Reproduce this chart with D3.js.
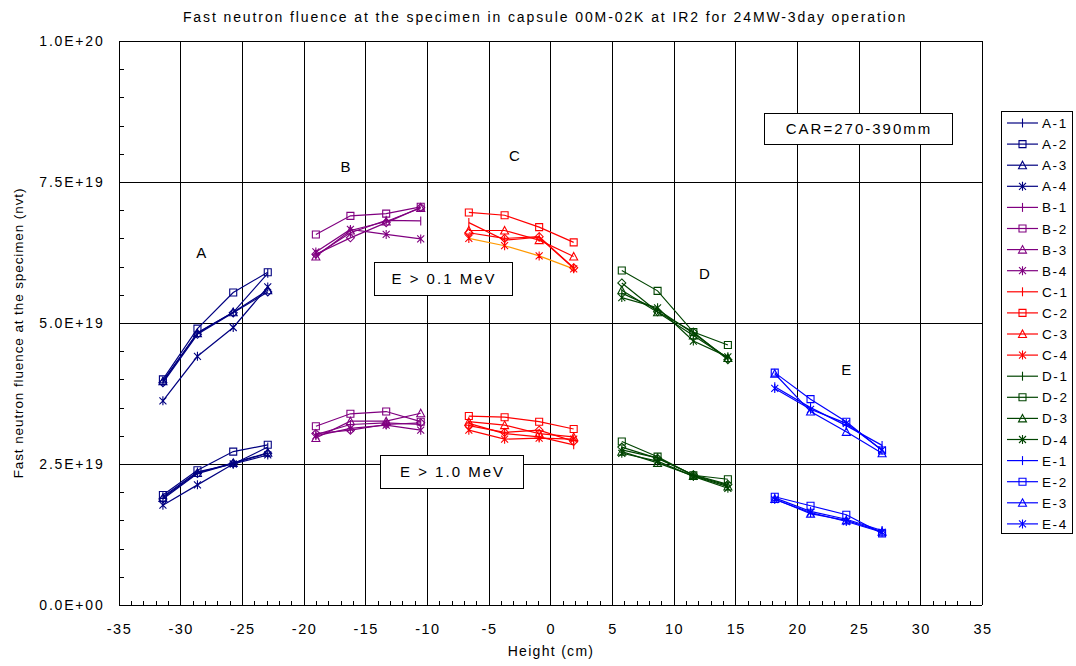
<!DOCTYPE html>
<html>
<head>
<meta charset="utf-8">
<script src="https://cdn.jsdelivr.net/npm/d3@7"></script>
<style>
  body { margin: 0; background: #fff; }
  text { font-family: "Liberation Sans", Arial, sans-serif; fill: #000; }
</style>
</head>
<body>
<div id="chart"></div>
<script>
// specimen heights (cm) for each capsule group
var heightsA = [-31.4, -28.6, -25.7, -22.9];
var heightsB = [-19.0, -16.2, -13.3, -10.5];
var heightsC = [-6.6, -3.7, -0.9, 1.9];
var heightsD = [5.8, 8.7, 11.6, 14.4];
var heightsE = [18.2, 21.1, 24.0, 26.9];

// fluence in 1E+19 nvt, E > 0.1 MeV ; rows = specimen 1..4, 5th row = unlabelled diamond series
var upperA = [[3.96, 4.83, 5.19, 5.88], [4.00, 4.90, 5.54, 5.90], [3.97, 4.82, 5.19, 5.58], [3.62, 4.41, 4.92, 5.64], [3.94, 4.80, 5.18, 5.55]];
var upperB = [[6.20, 6.60, 6.82, 6.81], [6.57, 6.90, 6.94, 7.06], [6.18, 6.64, 6.80, 7.04], [6.26, 6.66, 6.57, 6.49], [6.22, 6.51, 6.78, 7.05]];
var upperC = [[6.78, 6.47, 6.52, 5.97], [6.96, 6.91, 6.70, 6.43], [6.64, 6.64, 6.47, 6.18], [6.50, 6.37, 6.19, 5.96], [6.60, 6.50, 6.53, 5.98]];
var upperD = [[5.53, 5.24, 4.82, 4.37], [5.93, 5.57, 4.84, 4.61], [5.58, 5.19, 4.78, 4.38], [5.45, 5.27, 4.68, 4.40], [5.71, 5.20, 4.84, 4.35]];
var upperE = [[3.87, 3.50, 3.18, 2.83], [4.12, 3.65, 3.25, 2.74], [4.10, 3.43, 3.07, 2.69], [3.84, 3.47, 3.22, 2.75]];

// fluence in 1E+19 nvt, E > 1.0 MeV
var lowerA = [[1.92, 2.36, 2.50, 2.80], [1.95, 2.39, 2.72, 2.84], [1.90, 2.34, 2.52, 2.70], [1.77, 2.13, 2.50, 2.66], [1.88, 2.33, 2.51, 2.69]];
var lowerB = [[3.02, 3.20, 3.23, 3.20], [3.17, 3.39, 3.43, 3.25], [2.96, 3.26, 3.26, 3.40], [3.00, 3.13, 3.19, 3.10], [3.04, 3.10, 3.20, 3.23]];
var lowerC = [[3.22, 3.04, 2.98, 2.84], [3.35, 3.33, 3.25, 3.12], [3.25, 3.19, 3.04, 2.98], [3.10, 2.94, 2.96, 2.94], [3.18, 3.06, 3.10, 2.90]];
var lowerD = [[2.75, 2.61, 2.30, 2.12], [2.90, 2.63, 2.30, 2.23], [2.72, 2.52, 2.29, 2.10], [2.69, 2.55, 2.28, 2.07], [2.80, 2.60, 2.31, 2.14]];
var lowerE = [[1.90, 1.66, 1.52, 1.32], [1.92, 1.76, 1.60, 1.27], [1.88, 1.62, 1.50, 1.30], [1.87, 1.64, 1.48, 1.29]];

var groupNames = ["A", "B", "C", "D", "E"];
var groupColors = ["#000080", "#800080", "#FF0000", "#004400", "#0000FF"];
var markerTypes = ["bar", "square", "triangle", "asterisk", "diamond"];
var xTicks = [-35, -30, -25, -20, -15, -10, -5, 0, 5, 10, 15, 20, 25, 30, 35];
var yTicks = [0, 2.5, 5, 7.5, 10];

// group letters: [label, height, fluence]
var groupLabels = [["A", -28.3, 6.24], ["B", -16.6, 7.77], ["C", -2.9, 7.96], ["D", 12.5, 5.87], ["E", 24.0, 4.17]];

var heights = [heightsA, heightsB, heightsC, heightsD, heightsE];
var uppers = [upperA, upperB, upperC, upperD, upperE];
var lowers = [lowerA, lowerB, lowerC, lowerD, lowerE];

var W = 1076, H = 666;
var margin = { top: 41, right: 94, bottom: 61, left: 118 };

var svg = d3.select("#chart").append("svg")
  .attr("width", W).attr("height", H)
  .style("display", "block");

var x = d3.scaleLinear().domain([-35, 35]).range([margin.left + 0.5, W - margin.right]);
var y = d3.scaleLinear().domain([0, 10]).range([H - margin.bottom, margin.top]);

// grid
var grid = svg.append("g").attr("shape-rendering", "crispEdges");
grid.selectAll(".vg").data(xTicks).enter().append("line")
  .attr("x1", d => Math.round(x(d)) + 0.5).attr("x2", d => Math.round(x(d)) + 0.5)
  .attr("y1", y(0)).attr("y2", y(10))
  .attr("stroke", "#000").attr("stroke-width", 1);
grid.selectAll(".hg").data(yTicks).enter().append("line")
  .attr("x1", x(-35)).attr("x2", x(35))
  .attr("y1", d => Math.round(y(d)) + 0.5).attr("y2", d => Math.round(y(d)) + 0.5)
  .attr("stroke", "#000").attr("stroke-width", 1);

// minor ticks (inside)
grid.selectAll(".mx").data(d3.range(-35, 35.1, 1)).enter().append("line")
  .attr("x1", d => Math.round(x(d)) + 0.5).attr("x2", d => Math.round(x(d)) + 0.5)
  .attr("y1", y(0)).attr("y2", y(0) - 4)
  .attr("stroke", "#000");
grid.selectAll(".my").data(d3.range(0, 10.01, 0.5)).enter().append("line")
  .attr("x1", Math.round(x(-35)) + 0.5).attr("x2", Math.round(x(-35)) + 4.5)
  .attr("y1", d => Math.round(y(d)) + 0.5).attr("y2", d => Math.round(y(d)) + 0.5)
  .attr("stroke", "#000");

// axes labels
function fmtE(v) {
  return (v * 1e19).toExponential(1).toUpperCase().replace(/E\+(\d)$/, "E+0$1");
}
svg.append("g").selectAll("text").data(yTicks).enter().append("text")
  .attr("x", x(-35) - 14).attr("y", d => y(d) + 5)
  .attr("text-anchor", "end")
  .style("font-size", "14px").style("letter-spacing", "1.8px")
  .text(fmtE);
svg.append("g").selectAll("text").data(xTicks).enter().append("text")
  .attr("x", d => x(d) + 1).attr("y", y(0) + 29)
  .attr("text-anchor", "middle")
  .style("font-size", "14.5px").style("letter-spacing", "1.5px")
  .text(d => String(d));

svg.append("text")
  .attr("x", 545).attr("y", 22)
  .attr("text-anchor", "middle")
  .style("font-size", "14px").style("letter-spacing", "1.9px")
  .text("Fast neutron fluence at the specimen in capsule 00M-02K at IR2 for 24MW-3day operation");
svg.append("text")
  .attr("x", 551).attr("y", 656)
  .attr("text-anchor", "middle")
  .style("font-size", "14px").style("letter-spacing", "1.3px")
  .text("Height (cm)");
svg.append("text")
  .attr("transform", "translate(23," + (y(5) + 10) + ") rotate(-90)")
  .attr("text-anchor", "middle")
  .style("font-size", "13.5px").style("letter-spacing", "0.9px")
  .text("Fast neutron fluence at the specimen (nvt)");

// marker shapes
function drawMarker(g, type, color) {
  var p;
  if (type === "bar") p = "M0,-4.5V4.5";
  else if (type === "square") p = "M-3.5,-3.5H3.5V3.5H-3.5Z";
  else if (type === "triangle") p = "M0,-4L4,3.5H-4Z";
  else if (type === "asterisk") p = "M-3.5,-3.5L3.5,3.5M3.5,-3.5L-3.5,3.5M0,-4.5V4.5";
  else p = "M0,-4L4,0L0,4L-4,0Z";
  g.append("path").attr("d", p)
    .attr("fill", "none").attr("stroke", color).attr("stroke-width", 1.1);
}

var line = d3.line().x(d => x(d[0])).y(d => y(d[1]));
var plot = svg.append("g");

groupNames.forEach(function (gName, gi) {
  var hs = heights[gi];
  [uppers[gi], lowers[gi]].forEach(function (set, si) {
    set.forEach(function (vals, k) {
      var pts = hs.map((h, i) => [h, vals[i]]);
      var lc = groupColors[gi];
      if (gName === "C" && k === 3 && si === 0) lc = "#FF9900";
      plot.append("path").datum(pts)
        .attr("d", line)
        .attr("fill", "none").attr("stroke", lc).attr("stroke-width", 1.2);
      pts.forEach(function (p) {
        var m = plot.append("g").attr("transform", "translate(" + x(p[0]) + "," + y(p[1]) + ")");
        drawMarker(m, markerTypes[k], groupColors[gi]);
      });
    });
  });
});

// group letters
svg.append("g").selectAll("text").data(groupLabels).enter().append("text")
  .attr("x", d => x(d[1])).attr("y", d => y(d[2]) + 5)
  .attr("text-anchor", "middle")
  .style("font-size", "15px")
  .text(d => d[0]);

// annotation boxes
function note(x0, y0, w, h, txt) {
  svg.append("rect").attr("x", x0 + 0.5).attr("y", y0 + 0.5).attr("width", w).attr("height", h)
    .attr("fill", "#fff").attr("stroke", "#000").attr("shape-rendering", "crispEdges");
  svg.append("text").attr("x", x0 + w / 2 + 1).attr("y", y0 + h / 2 + 5.5)
    .attr("text-anchor", "middle")
    .style("font-size", "15px").style("letter-spacing", "2px")
    .text(txt);
}
note(764, 113, 188, 31, "CAR=270-390mm");
note(374, 262, 138, 33, "E > 0.1 MeV");
note(380, 455, 143, 33, "E > 1.0 MeV");

// legend
var legend = svg.append("g");
legend.append("rect").attr("x", 1001.5).attr("y", 111.5).attr("width", 71).attr("height", 422)
  .attr("fill", "#fff").attr("stroke", "#000").attr("shape-rendering", "crispEdges");
var items = [];
groupNames.forEach(function (gName, gi) {
  for (var k = 0; k < 4; k++) items.push({ name: gName + "-" + (k + 1), color: groupColors[gi], type: markerTypes[k] });
});
items.forEach(function (it, i) {
  var ly = 123 + i * 21.1;
  var g = legend.append("g").attr("transform", "translate(0," + ly + ")");
  g.append("line").attr("x1", 1007).attr("x2", 1038).attr("y1", 0).attr("y2", 0)
    .attr("stroke", it.color).attr("stroke-width", 1.2);
  var m = g.append("g").attr("transform", "translate(1022.5,0)");
  drawMarker(m, it.type, it.color);
  g.append("text").attr("x", 1042).attr("y", 5)
    .style("font-size", "13.5px").style("letter-spacing", "1.6px")
    .text(it.name);
});
</script>
</body>
</html>
